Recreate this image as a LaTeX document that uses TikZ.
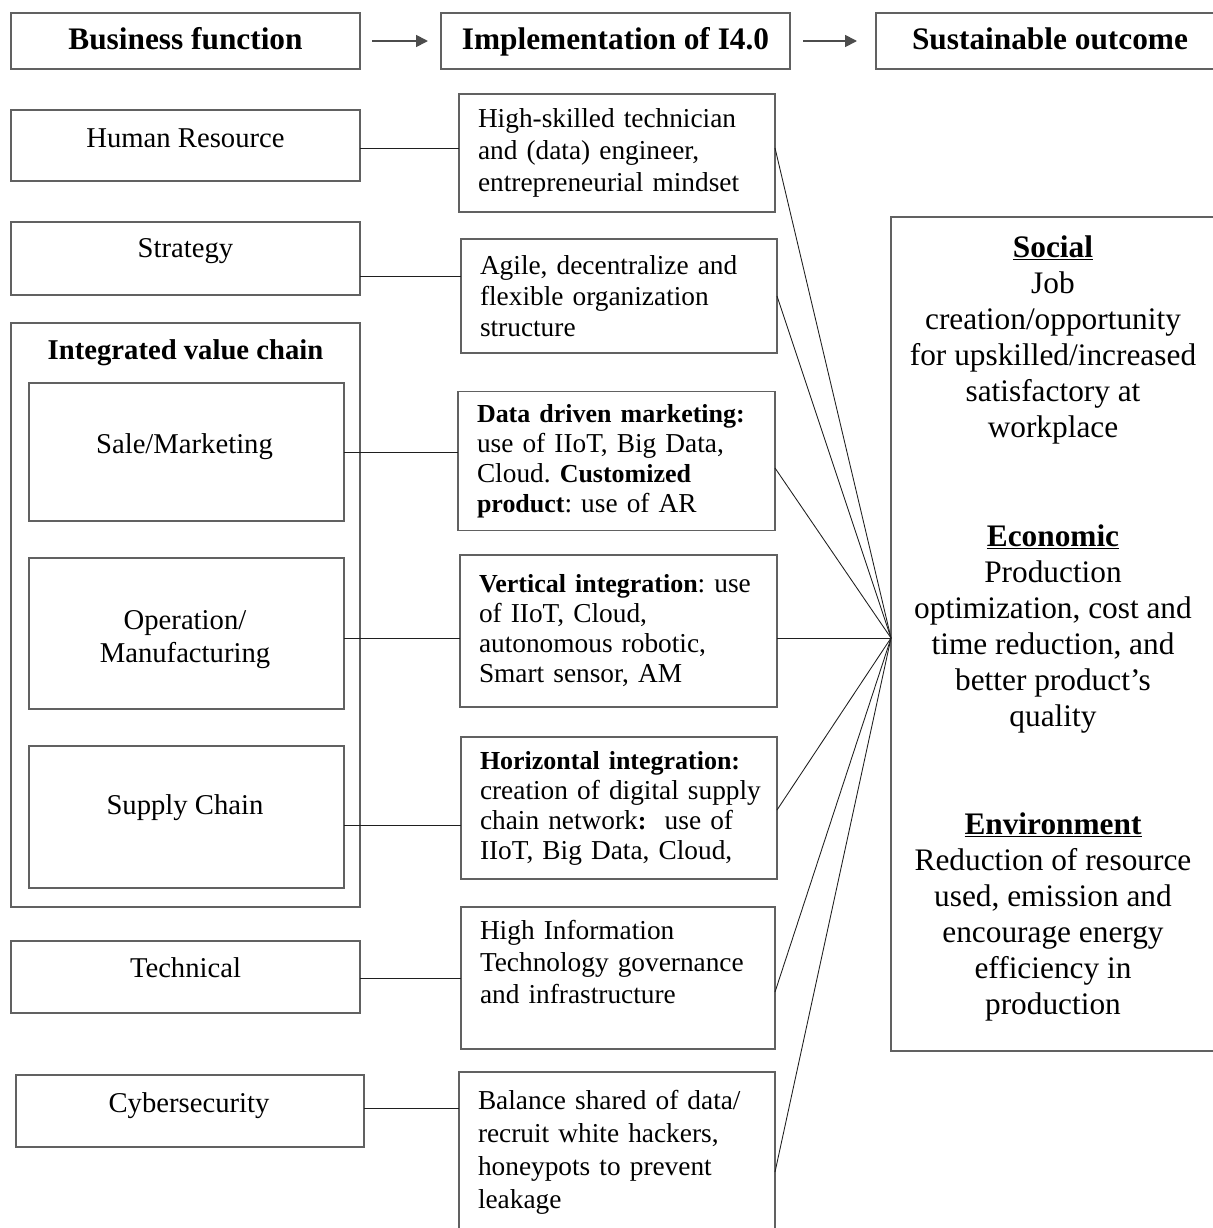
\documentclass[tikz,border=0pt]{standalone}
\usepackage{fontspec}
\setmainfont{Liberation Serif}
\newfontfamily\mbffam{Liberation Serif}[Scale=0.95]
\newcommand\mb[1]{{\mbffam\bfseries #1}}
\usetikzlibrary{arrows.meta}
\tikzset{
  frame/.style={draw=black!62, line width=1.1pt, rectangle, inner sep=0pt, outer sep=0pt},
  midtext/.style={align=left, inner xsep=14.25pt, inner ysep=0pt, font=\fontsize{20.5}{23.5}\selectfont\frenchspacing},
  ltext/.style={anchor=base, inner sep=0pt, align=center, font=\fontsize{21.5}{24.75}\selectfont},
  rtext/.style={anchor=base, inner sep=0pt, align=center, font=\fontsize{23.5}{27}\selectfont},
  htext/.style={font=\fontsize{23.5}{27}\selectfont\bfseries, text height=17pt, text depth=4pt},
  conn/.style={draw=black!88, line width=0.65pt},
  harrow/.style={draw=black!70, line width=1.3pt, -{Triangle[length=9pt,width=9pt]}},
}
\newcommand\boxat[6]{%
  \pgfmathsetlengthmacro\bw{(#4-#2)*0.75pt}%
  \pgfmathsetlengthmacro\bh{(#5-#3)*0.75pt}%
  \node[frame, minimum width=\bw, minimum height=\bh, #6] (#1) at ({(#2+#4)/2},{(#3+#5)/2}) {};}
\newcommand\hdbox[6]{%
  \pgfmathsetlengthmacro\bw{(#4-#2)*0.75pt}%
  \pgfmathsetlengthmacro\bh{(#5-#3)*0.75pt}%
  \node[frame, htext, minimum width=\bw, minimum height=\bh] (#1) at ({(#2+#4)/2},{(#3+#5)/2}) {#6};}
\newcommand\midbox[7][]{%
  \pgfmathsetlengthmacro\bw{(#5-#3)*0.75pt}%
  \pgfmathsetlengthmacro\tw{(#5-#3-38)*0.75pt}%
  \pgfmathsetlengthmacro\bh{(#6-#4)*0.75pt}%
  \node[frame, midtext, text width=\tw, minimum width=\bw, minimum height=\bh, #1] (#2) at ({(#3+#5)/2},{(#4+#6)/2}) {#7};}
\begin{document}
\begin{tikzpicture}[x=0.75pt, y=-0.75pt]
\useasboundingbox (0,0) rectangle (1213,1228);

% header row
\hdbox{hbf}{11}{13}{360}{69}{Business function}
\hdbox{himp}{441}{13}{790}{69}{Implementation of I4.0}
\hdbox{hso}{876}{13}{1224}{69}{Sustainable outcome}
\draw[harrow] ([xshift=9pt]hbf.east) -- ([xshift=-9.75pt]himp.west);
\draw[harrow] ([xshift=9.75pt]himp.east) -- ([xshift=-14.25pt]hso.west);

% left column
\boxat{lhr}{11}{110}{360}{181}{}
\node[ltext] (lhrT) at (185.5,147) {Human Resource};
\boxat{lst}{11}{222}{360}{295}{}
\node[ltext] (lstT) at (185.5,257) {Strategy};
\boxat{livc}{11}{323}{360}{907}{}
\node[ltext, font=\fontsize{21.5}{24}\selectfont\bfseries] (livcT) at (185.5,359) {Integrated value chain};
\boxat{lsm}{29}{383}{344}{521}{}
\node[ltext] (lsmT) at (184.5,453) {Sale/Marketing};
\boxat{lom}{29}{558}{344}{709}{}
\node[ltext] (lomT) at (185,662) {Operation/\\Manufacturing};
\boxat{lsc}{29}{746}{344}{888}{}
\node[ltext] (lscT) at (185,814) {Supply Chain};
\boxat{ltc}{11}{941}{360}{1013}{}
\node[ltext] (ltcT) at (185.5,977) {Technical};
\boxat{lcy}{16}{1075}{364}{1147}{}
\node[ltext] (lcyT) at (189,1112) {Cybersecurity};

% middle column
\midbox[font=\fontsize{20.5}{24}\selectfont\frenchspacing]{mhr}{459}{94}{775}{212}{High-skilled technician\\ and (data) engineer,\\ entrepreneurial mindset}
\midbox[font=\fontsize{20.5}{23.25}\selectfont\frenchspacing]{mst}{461}{239}{777}{353}{Agile, decentralize and\\ flexible organization\\ structure}
\midbox[font=\fontsize{20.5}{22.7}\selectfont\frenchspacing, yshift=-2pt]{mdm}{458}{389}{775}{528}{\mb{Data driven marketing:}\\ use of IIoT, Big Data,\\ Cloud. \mb{Customized}\\ \mb{product}: use of AR}
\midbox[font=\fontsize{20.5}{22.5}\selectfont\frenchspacing]{mvi}{460}{555}{777}{707}{\mb{Vertical integration}: use\\ of IIoT, Cloud,\\ autonomous robotic,\\ Smart sensor, AM}
\midbox[font=\fontsize{20.5}{22.5}\selectfont\frenchspacing]{mhi}{461}{737}{777}{879}{\mb{Horizontal integration:}\\ \mbox{creation of digital supply}\\ chain network\mb{:}\ \ use of\\ IIoT, Big Data, Cloud,}
\midbox[font=\fontsize{20.5}{24}\selectfont\frenchspacing]{mit}{461}{907}{775}{1049}{High Information\\ Technology governance\\ and infrastructure\\ \mbox{}}
\midbox[font=\fontsize{20.5}{24.75}\selectfont\frenchspacing]{mcy}{459}{1072}{775}{1232}{Balance shared of data/\\ recruit white hackers,\\ honeypots to prevent\\ leakage}

% right column
\boxat{rbox}{891}{217}{1216}{1051}{}
\node[rtext] (rsoc) at (1053,437) {\underline{\textbf{Social}}\\ Job\\ creation/opportunity\\ for upskilled/increased\\ satisfactory at\\ workplace};
\node[rtext] (reco) at (1053,726) {\underline{\textbf{Economic}}\\ Production\\ optimization, cost and\\ time reduction, and\\ better product’s\\ quality};
\node[rtext] (renv) at (1053,1014) {\underline{\textbf{Environment}}\\ Reduction of resource\\ used, emission and\\ encourage energy\\ efficiency in\\ production};

% connectors left -> middle
\draw[conn] (lhr.east |- 0,148) -- (mhr.west |- 0,148);
\draw[conn] (lst.east |- 0,276) -- (mst.west |- 0,276);
\draw[conn] (lsm.east |- 0,452) -- (mdm.west |- 0,452);
\draw[conn] (lom.east |- 0,638) -- (mvi.west |- 0,638);
\draw[conn] (lsc.east |- 0,825) -- (mhi.west |- 0,825);
\draw[conn] (ltc.east |- 0,978) -- (mit.west |- 0,978);
\draw[conn] (lcy.east |- 0,1108) -- (mcy.west |- 0,1108);

% connectors middle -> outcome
\coordinate (conv) at (891,638);
\draw[conn] (mhr.east |- 0,148) -- (conv);
\draw[conn] (mst.east |- 0,296) -- (conv);
\draw[conn] (mdm.east |- 0,468) -- (conv);
\draw[conn] (mvi.east |- 0,638) -- (conv);
\draw[conn] (mhi.east |- 0,810) -- (conv);
\draw[conn] (mit.east |- 0,992) -- (conv);
\draw[conn] (mcy.east |- 0,1172) -- (conv);
\end{tikzpicture}
\end{document}
